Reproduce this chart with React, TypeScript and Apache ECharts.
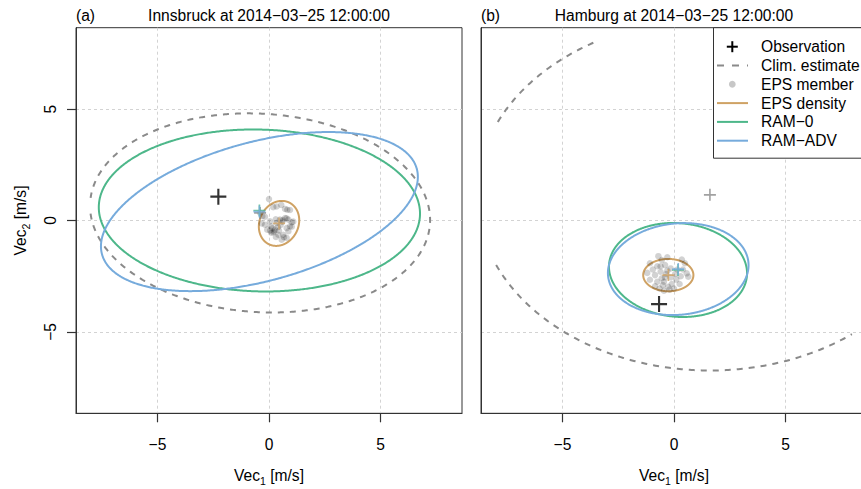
import { useEffect, useRef } from 'react';
import * as echarts from 'echarts';

const FONT = '"Liberation Sans", Arial, Helvetica, sans-serif';
const FS = 15.6;

// axes (both panels share the same scales); curves are clipped to the data limits
const axisRange = [-8.65, 8.65];
const dataLimits = [-8, 8];
const tickValues = [-5, 0, 5];

const panelTags = ['(a)', '(b)'];
const panelTitles = ['Innsbruck at 2014\u221203\u221225 12:00:00', 'Hamburg at 2014\u221203\u221225 12:00:00'];
const legendLabels = ['Observation', 'Clim. estimate', 'EPS member', 'EPS density', 'RAM\u22120', 'RAM\u2212ADV'];

// observations [Vec1, Vec2] in m/s
const obsInnsbruck = [-2.27, 1.07];
const obsHamburg = [-0.67, -3.75];

// ellipses: [centre Vec1, centre Vec2, semi-axis 1, semi-axis 2, rotation (deg)]
const climInnsbruck = [-0.4, 0.34, 7.63, 4.45, -3.6];
const epsDensInnsbruck = [0.45, -0.13, 1.04, 0.87, 64];
const ram0Innsbruck = [-0.43, 0.45, 7.2, 3.63, -1.5];
const ramAdvInnsbruck = [-0.43, 0.4, 7.31, 3.12, 15.2];

const climHamburg = [1.61, 1.15, 10.45, 7.88, 0];
const epsDensHamburg = [-0.255, -2.45, 1.125, 0.725, 0];
const ram0Hamburg = [0.18, -2.22, 3.1, 2.1, -5];
const ramAdvHamburg = [0.19, -2.18, 3.16, 2.05, 5.5];

// EPS members [Vec1, Vec2]
const epsInnsbruck = [
  [0.0, 0.96], [-0.3, 0.19], [0.19, 0.6], [0.34, 0.63], [0.72, 0.52], [0.82, 0.48], [0.94, 0.47],
  [0.04, -0.04], [0.09, -0.26], [0.27, -0.41], [0.4, -0.3], [0.52, -0.2], [0.6, -0.05], [0.79, -0.34],
  [0.94, -0.26], [1.02, -0.08], [1.09, -0.05], [0.64, -0.64], [0.42, -0.64], [0.19, -0.53], [0.87, -0.48],
  [0.49, 0.04], [0.34, -0.11], [0.72, 0.11], [0.87, 0.04], [-0.18, -0.19], [-0.08, -0.41], [0.57, -0.86],
  [0.79, -0.78], [0.31, -0.74], [-0.18, 0.17], [-0.33, -0.13], [0.05, -0.45], [0.15, -0.35], [0.22, -0.48],
  [0.67, -0.75], [1.02, -0.28], [0.61, 0.02], [0.79, 0.1], [0.3, 0.05], [0.1, -0.55], [0.45, -0.45],
  [-0.4, 0.35], [0.55, 0.7],
];
const epsHamburg = [
  [-1.08, -1.92], [-0.55, -1.77], [-0.75, -2.05], [-0.4, -2.0], [-0.15, -2.15], [0.15, -2.2], [0.49, -1.92],
  [0.57, -2.37], [0.64, -2.52], [-1.08, -2.66], [-0.85, -2.45], [-0.55, -2.59], [-0.45, -2.75], [-0.26, -2.97],
  [-0.1, -2.85], [0.1, -2.65], [0.3, -2.5], [-0.6, -2.3], [-0.35, -2.4], [-0.5, -2.9], [-0.65, -3.05],
  [-0.2, -3.1], [0.05, -2.4], [-0.95, -2.2], [-0.3, -1.65], [-0.7, -1.6], [0.25, -2.85], [-0.4, -2.55],
  [-0.75, -2.75], [0.4, -2.2], [-0.15, -2.55], [-0.85, -2.95], [0.0, -3.05], [-0.3, -2.25], [-0.6, -2.05],
  [0.35, -1.75], [-0.45, -3.15], [-1.2, -2.35],
];

// styles
const colObs = '#000000';
const colClim = '#8a8a8a';
const colEpsPt = 'rgba(0,0,0,0.22)';
const colEps = '#CFA264';
const colRam0 = '#4DB78A';
const colRamAdv = '#76ABDC';
const colAxis = '#333333';
const PLUS = 'path://M6.5,0h2v6.5h6.5v2h-6.5v6.5h-2v-6.5h-6.5v-2h6.5z';

// layout
const GRID_TOP = 27.7;
const GRID_H = 385.6;
const GRID_W = 386;
const GRID_LEFTS = [76, 481];

const fmt = (v: number) => (v < 0 ? '\u2212' + Math.abs(v) : String(v));

function ellipse(ax: any, e: number[], color: string, dashed = false) {
  return {
    type: 'custom',
    ...ax,
    clip: true,
    silent: true,
    data: [e],
    renderItem: (_p: any, api: any) => {
      const cx = api.value(0);
      const cy = api.value(1);
      const a = api.value(2);
      const b = api.value(3);
      const th = (api.value(4) * Math.PI) / 180;
      const lo = dataLimits[0];
      const hi = dataLimits[1];
      const N = 720;
      const segs: number[][][] = [];
      let cur: number[][] = [];
      let firstInside = false;
      for (let k = 0; k <= N; k++) {
        const t = (k / N) * 2 * Math.PI;
        const ex = a * Math.cos(t);
        const ey = b * Math.sin(t);
        const x = cx + ex * Math.cos(th) - ey * Math.sin(th);
        const y = cy + ex * Math.sin(th) + ey * Math.cos(th);
        const inside = x >= lo && x <= hi && y >= lo && y <= hi;
        if (k === 0) firstInside = inside;
        if (inside) cur.push(api.coord([x, y]));
        else if (cur.length) {
          segs.push(cur);
          cur = [];
        }
      }
      if (cur.length) {
        if (firstInside && segs.length) segs[0] = cur.concat(segs[0]);
        else segs.push(cur);
      }
      return {
        type: 'group',
        children: segs.map((pts) => ({
          type: 'polyline',
          shape: { points: pts },
          style: { fill: 'none', stroke: color, lineWidth: 2, lineDash: dashed ? [6, 6] : null },
        })),
      };
    },
  };
}

function plus(ax: any, pt: number[], color: string, size: number) {
  return {
    type: 'scatter',
    ...ax,
    silent: true,
    symbol: PLUS,
    symbolSize: size,
    itemStyle: { color },
    data: [pt],
  };
}

function panelSeries(i: number, obs: number[], clim: number[], epsD: number[], ram0: number[], ramAdv: number[], eps: number[][]) {
  const ax = { xAxisIndex: i, yAxisIndex: i };
  return [
    { type: 'scatter', ...ax, silent: true, data: eps, symbol: 'circle', symbolSize: 6.5, itemStyle: { color: colEpsPt } },
    ellipse(ax, clim, colClim, true),
    ellipse(ax, epsD, colEps),
    ellipse(ax, ram0, colRam0),
    ellipse(ax, ramAdv, colRamAdv),
    plus(ax, clim.slice(0, 2), colClim, 12),
    plus(ax, epsD.slice(0, 2), colEps, 12),
    plus(ax, ram0.slice(0, 2), colRam0, 12),
    plus(ax, ramAdv.slice(0, 2), colRamAdv, 12),
    plus(ax, obs, colObs, 16),
  ];
}

const richName = {
  a: { fontSize: FS, fontFamily: FONT, color: '#000', lineHeight: 22, verticalAlign: 'middle' },
  b: { fontSize: 10.5, fontFamily: FONT, color: '#000', lineHeight: 22, verticalAlign: 'bottom' },
};

const tickStyle = { show: true, length: 9, customValues: tickValues, lineStyle: { color: colAxis, width: 1.2 } };
const gridLineStyle = { show: true, lineStyle: { color: '#d3d3d3', width: 1, type: [3, 3] } };

function xAxis(i: number) {
  return {
    type: 'value',
    gridIndex: i,
    min: axisRange[0],
    max: axisRange[1],
    splitNumber: 3,
    axisLine: { show: true, onZero: false, lineStyle: { color: colAxis, width: 1 } },
    axisTick: tickStyle,
    axisLabel: { customValues: tickValues, formatter: fmt, fontSize: FS, fontFamily: FONT, color: '#000', margin: 23 },
    splitLine: gridLineStyle,
    name: '{a|Vec}{b|1}{a| [m/s]}',
    nameLocation: 'middle',
    nameGap: 51,
    nameTextStyle: { rich: richName },
  };
}

function yAxis(i: number) {
  const base: any = {
    type: 'value',
    gridIndex: i,
    min: axisRange[0],
    max: axisRange[1],
    splitNumber: 3,
    axisLine: { show: true, onZero: false, lineStyle: { color: colAxis, width: 1 } },
    splitLine: gridLineStyle,
  };
  if (i === 0) {
    base.axisTick = tickStyle;
    base.axisLabel = { customValues: tickValues, formatter: fmt, rotate: 90, fontSize: FS, fontFamily: FONT, color: '#000', margin: 18 };
    base.name = '{a|Vec}{b|2}{a| [m/s]}';
    base.nameLocation = 'middle';
    base.nameGap = 45;
    base.nameRotate = 90;
    base.nameTextStyle = { rich: richName };
  } else {
    base.axisTick = { show: false, customValues: tickValues };
    base.axisLabel = { show: false, customValues: tickValues };
  }
  return base;
}

function buildGraphics() {
  const els: any[] = [];
  GRID_LEFTS.forEach((left, i) => {
    els.push({
      type: 'text', x: left, y: 15.5, z: 100,
      style: { text: panelTags[i], font: `${FS}px ${FONT}`, fill: '#000', textAlign: 'left', textVerticalAlign: 'middle' },
    });
    els.push({
      type: 'text', x: left + GRID_W / 2, y: 15.5, z: 100,
      style: { text: panelTitles[i], font: `${FS}px ${FONT}`, fill: '#000', textAlign: 'center', textVerticalAlign: 'middle' },
    });
  });
  // legend box
  const lx = 713.5;
  const rows = [46.7, 65.5, 84.3, 103.1, 121.9, 140.7];
  const sx = 732.3;
  const l0 = 717;
  const l1 = 748;
  const tx = 761;
  els.push({
    type: 'rect', z: 100,
    shape: { x: lx, y: GRID_TOP, width: 200, height: 130.5 },
    style: { fill: '#fff', stroke: colAxis, lineWidth: 1 },
  });
  els.push({ type: 'line', z: 101, shape: { x1: sx - 5.5, y1: rows[0], x2: sx + 5.5, y2: rows[0] }, style: { stroke: colObs, lineWidth: 2 } });
  els.push({ type: 'line', z: 101, shape: { x1: sx, y1: rows[0] - 5.5, x2: sx, y2: rows[0] + 5.5 }, style: { stroke: colObs, lineWidth: 2 } });
  els.push({ type: 'line', z: 101, shape: { x1: l0, y1: rows[1], x2: l1, y2: rows[1] }, style: { stroke: colClim, lineWidth: 2, lineDash: [7, 8] } });
  els.push({ type: 'circle', z: 101, shape: { cx: sx, cy: rows[2], r: 3.4 }, style: { fill: colEpsPt } });
  els.push({ type: 'line', z: 101, shape: { x1: l0, y1: rows[3], x2: l1, y2: rows[3] }, style: { stroke: colEps, lineWidth: 2 } });
  els.push({ type: 'line', z: 101, shape: { x1: l0, y1: rows[4], x2: l1, y2: rows[4] }, style: { stroke: colRam0, lineWidth: 2 } });
  els.push({ type: 'line', z: 101, shape: { x1: l0, y1: rows[5], x2: l1, y2: rows[5] }, style: { stroke: colRamAdv, lineWidth: 2 } });
  legendLabels.forEach((t, k) => {
    els.push({
      type: 'text', x: tx, y: rows[k], z: 101,
      style: { text: t, font: `${FS}px ${FONT}`, fill: '#000', textAlign: 'left', textVerticalAlign: 'middle' },
    });
  });
  return els;
}

export default function App() {
  const ref = useRef<HTMLDivElement>(null);
  useEffect(() => {
    if (!ref.current) return;
    const chart = echarts.init(ref.current, null, { renderer: 'svg' });
    chart.setOption({
      animation: false,
      backgroundColor: '#ffffff',
      textStyle: { fontFamily: FONT },
      grid: GRID_LEFTS.map((left) => ({
        left, top: GRID_TOP, width: GRID_W, height: GRID_H, outerBoundsMode: 'none',
        show: true, borderColor: colAxis, borderWidth: 1, backgroundColor: 'transparent',
      })),
      xAxis: [xAxis(0), xAxis(1)],
      yAxis: [yAxis(0), yAxis(1)],
      series: [
        ...panelSeries(0, obsInnsbruck, climInnsbruck, epsDensInnsbruck, ram0Innsbruck, ramAdvInnsbruck, epsInnsbruck),
        ...panelSeries(1, obsHamburg, climHamburg, epsDensHamburg, ram0Hamburg, ramAdvHamburg, epsHamburg),
      ],
      graphic: { elements: buildGraphics() },
    });
    return () => chart.dispose();
  }, []);
  return <div ref={ref} style={{ position: 'absolute', left: 0, top: 0, width: 861, height: 489 }} />;
}
